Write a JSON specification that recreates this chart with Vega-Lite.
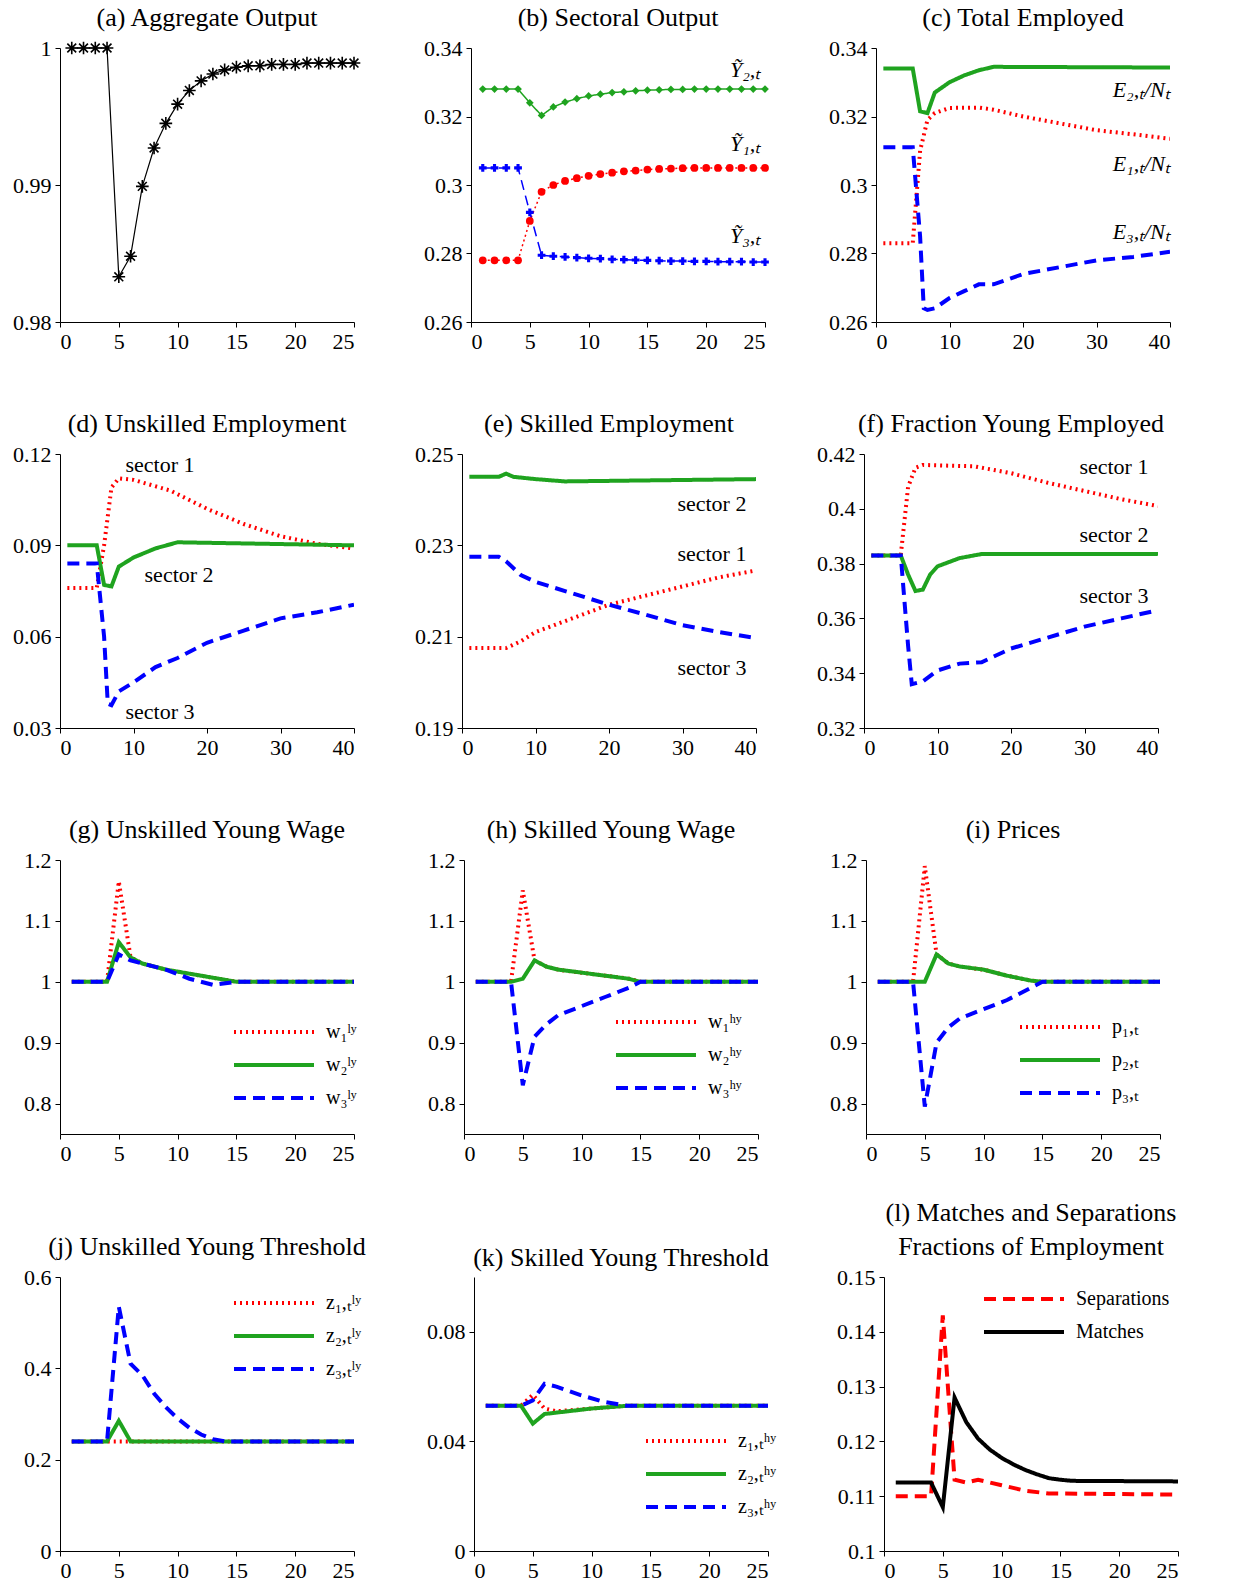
{
"$schema":"https://vega.github.io/schema/vega-lite/v6.json",
"background":"white",
"config":{"font":"Liberation Serif","view":{"stroke":null},
"axis":{"grid":false,"labelFontSize":22,"labelColor":"black","domainColor":"black","tickColor":"black","tickSize":5,"labelPadding":4,"title":null},
"axisY":{"minExtent":55,"maxExtent":55},
"title":{"fontSize":26,"fontWeight":"normal","color":"black","offset":6},
"legend":{"labelFontSize":20,"labelColor":"black","symbolType":"M-4,0L4,0","symbolSize":400,"symbolStrokeWidth":4,"rowPadding":11,"title":null,"labelOffset":40}},
"datasets":{
"a":[{"t":1,"v":1},{"t":2,"v":1},{"t":3,"v":1},{"t":4,"v":1},{"t":5,"v":0.9833},{"t":6,"v":0.9848},{"t":7,"v":0.9899},{"t":8,"v":0.9927},{"t":9,"v":0.9945},{"t":10,"v":0.9959},{"t":11,"v":0.9969},{"t":12,"v":0.9976},{"t":13,"v":0.9981},{"t":14,"v":0.9984},{"t":15,"v":0.9986},{"t":16,"v":0.9987},{"t":17,"v":0.9987},{"t":18,"v":0.9988},{"t":19,"v":0.9988},{"t":20,"v":0.9988},{"t":21,"v":0.9989},{"t":22,"v":0.9989},{"t":23,"v":0.9989},{"t":24,"v":0.9989},{"t":25,"v":0.9989}],
"b":[
{"s":"1","t":1,"v":0.278},{"s":"1","t":2,"v":0.278},{"s":"1","t":3,"v":0.278},{"s":"1","t":4,"v":0.278},{"s":"1","t":5,"v":0.2895},{"s":"1","t":6,"v":0.298},{"s":"1","t":7,"v":0.3},{"s":"1","t":8,"v":0.3012},{"s":"1","t":9,"v":0.302},{"s":"1","t":10,"v":0.3027},{"s":"1","t":11,"v":0.3032},{"s":"1","t":12,"v":0.3036},{"s":"1","t":13,"v":0.304},{"s":"1","t":14,"v":0.3042},{"s":"1","t":15,"v":0.3045},{"s":"1","t":16,"v":0.3047},{"s":"1","t":17,"v":0.3048},{"s":"1","t":18,"v":0.3049},{"s":"1","t":19,"v":0.305},{"s":"1","t":20,"v":0.305},{"s":"1","t":21,"v":0.305},{"s":"1","t":22,"v":0.305},{"s":"1","t":23,"v":0.305},{"s":"1","t":24,"v":0.305},{"s":"1","t":25,"v":0.305},
{"s":"2","t":1,"v":0.328},{"s":"2","t":2,"v":0.328},{"s":"2","t":3,"v":0.328},{"s":"2","t":4,"v":0.328},{"s":"2","t":5,"v":0.324},{"s":"2","t":6,"v":0.3203},{"s":"2","t":7,"v":0.3228},{"s":"2","t":8,"v":0.3242},{"s":"2","t":9,"v":0.3252},{"s":"2","t":10,"v":0.326},{"s":"2","t":11,"v":0.3265},{"s":"2","t":12,"v":0.327},{"s":"2","t":13,"v":0.3272},{"s":"2","t":14,"v":0.3275},{"s":"2","t":15,"v":0.3277},{"s":"2","t":16,"v":0.3278},{"s":"2","t":17,"v":0.3279},{"s":"2","t":18,"v":0.3279},{"s":"2","t":19,"v":0.328},{"s":"2","t":20,"v":0.328},{"s":"2","t":21,"v":0.328},{"s":"2","t":22,"v":0.328},{"s":"2","t":23,"v":0.328},{"s":"2","t":24,"v":0.328},{"s":"2","t":25,"v":0.328},
{"s":"3","t":1,"v":0.305},{"s":"3","t":2,"v":0.305},{"s":"3","t":3,"v":0.305},{"s":"3","t":4,"v":0.305},{"s":"3","t":5,"v":0.292},{"s":"3","t":6,"v":0.2795},{"s":"3","t":7,"v":0.2792},{"s":"3","t":8,"v":0.279},{"s":"3","t":9,"v":0.2788},{"s":"3","t":10,"v":0.2786},{"s":"3","t":11,"v":0.2785},{"s":"3","t":12,"v":0.2783},{"s":"3","t":13,"v":0.2782},{"s":"3","t":14,"v":0.2781},{"s":"3","t":15,"v":0.278},{"s":"3","t":16,"v":0.2779},{"s":"3","t":17,"v":0.2778},{"s":"3","t":18,"v":0.2778},{"s":"3","t":19,"v":0.2777},{"s":"3","t":20,"v":0.2777},{"s":"3","t":21,"v":0.2776},{"s":"3","t":22,"v":0.2776},{"s":"3","t":23,"v":0.2776},{"s":"3","t":24,"v":0.2775},{"s":"3","t":25,"v":0.2775}],
"bl":[{"t":24.6,"v":0.3336,"label":"Ỹ₂,ₜ"},{"t":24.6,"v":0.3119,"label":"Ỹ₁,ₜ"},{"t":24.6,"v":0.2852,"label":"Ỹ₃,ₜ"}],
"c":[
{"s":"1","t":1,"v":0.283},{"s":"1","t":5,"v":0.283},{"s":"1","t":6,"v":0.31},{"s":"1","t":7,"v":0.319},{"s":"1","t":8,"v":0.321},{"s":"1","t":10,"v":0.3225},{"s":"1","t":14,"v":0.3226},{"s":"1","t":16,"v":0.322},{"s":"1","t":20,"v":0.32},{"s":"1","t":25,"v":0.318},{"s":"1","t":30,"v":0.316},{"s":"1","t":35,"v":0.3148},{"s":"1","t":40,"v":0.3135},
{"s":"2","t":1,"v":0.334},{"s":"2","t":5,"v":0.334},{"s":"2","t":6,"v":0.3215},{"s":"2","t":7,"v":0.321},{"s":"2","t":8,"v":0.327},{"s":"2","t":10,"v":0.33},{"s":"2","t":12,"v":0.332},{"s":"2","t":14,"v":0.3335},{"s":"2","t":16,"v":0.3345},{"s":"2","t":40,"v":0.3343},
{"s":"3","t":1,"v":0.311},{"s":"3","t":5,"v":0.311},{"s":"3","t":6,"v":0.285},{"s":"3","t":6.5,"v":0.264},{"s":"3","t":7,"v":0.2635},{"s":"3","t":8,"v":0.264},{"s":"3","t":10,"v":0.267},{"s":"3","t":12,"v":0.269},{"s":"3","t":14,"v":0.271},{"s":"3","t":16,"v":0.271},{"s":"3","t":20,"v":0.274},{"s":"3","t":25,"v":0.276},{"s":"3","t":30,"v":0.278},{"s":"3","t":35,"v":0.279},{"s":"3","t":40,"v":0.2805}],
"cl":[{"t":40,"v":0.3278,"label":"E₂,ₜ/Nₜ"},{"t":40,"v":0.3061,"label":"E₁,ₜ/Nₜ"},{"t":40,"v":0.2864,"label":"E₃,ₜ/Nₜ"}],
"d":[
{"s":"1","t":1,"v":0.076},{"s":"1","t":5,"v":0.076},{"s":"1","t":6,"v":0.09},{"s":"1","t":7,"v":0.109},{"s":"1","t":8,"v":0.112},{"s":"1","t":10,"v":0.1115},{"s":"1","t":15,"v":0.108},{"s":"1","t":20,"v":0.102},{"s":"1","t":25,"v":0.097},{"s":"1","t":30,"v":0.093},{"s":"1","t":35,"v":0.0905},{"s":"1","t":40,"v":0.089},
{"s":"2","t":1,"v":0.09},{"s":"2","t":5,"v":0.09},{"s":"2","t":6,"v":0.077},{"s":"2","t":7,"v":0.0765},{"s":"2","t":8,"v":0.083},{"s":"2","t":10,"v":0.086},{"s":"2","t":13,"v":0.089},{"s":"2","t":16,"v":0.091},{"s":"2","t":40,"v":0.09},
{"s":"3","t":1,"v":0.084},{"s":"3","t":5,"v":0.084},{"s":"3","t":6,"v":0.06},{"s":"3","t":6.5,"v":0.038},{"s":"3","t":7,"v":0.0375},{"s":"3","t":8,"v":0.042},{"s":"3","t":10,"v":0.045},{"s":"3","t":13,"v":0.05},{"s":"3","t":16,"v":0.053},{"s":"3","t":20,"v":0.058},{"s":"3","t":25,"v":0.062},{"s":"3","t":30,"v":0.066},{"s":"3","t":35,"v":0.068},{"s":"3","t":40,"v":0.0705}],
"dl":[{"t":13.6,"v":0.1164,"label":"sector 1"},{"t":16.2,"v":0.0803,"label":"sector 2"},{"t":13.6,"v":0.0353,"label":"sector 3"}],
"e":[
{"s":"1","t":1,"v":0.2075},{"s":"1","t":6,"v":0.2075},{"s":"1","t":8,"v":0.209},{"s":"1","t":10,"v":0.211},{"s":"1","t":15,"v":0.214},{"s":"1","t":20,"v":0.217},{"s":"1","t":25,"v":0.219},{"s":"1","t":30,"v":0.221},{"s":"1","t":35,"v":0.223},{"s":"1","t":40,"v":0.2245},
{"s":"2","t":1,"v":0.245},{"s":"2","t":5,"v":0.245},{"s":"2","t":6,"v":0.2457},{"s":"2","t":7,"v":0.245},{"s":"2","t":10,"v":0.2445},{"s":"2","t":14,"v":0.244},{"s":"2","t":40,"v":0.2445},
{"s":"3","t":1,"v":0.2275},{"s":"3","t":5,"v":0.2275},{"s":"3","t":6,"v":0.2265},{"s":"3","t":8,"v":0.2235},{"s":"3","t":10,"v":0.222},{"s":"3","t":15,"v":0.2195},{"s":"3","t":20,"v":0.217},{"s":"3","t":25,"v":0.2148},{"s":"3","t":30,"v":0.2125},{"s":"3","t":35,"v":0.211},{"s":"3","t":40,"v":0.2097}],
"el":[{"t":34,"v":0.2391,"label":"sector 2"},{"t":34,"v":0.2281,"label":"sector 1"},{"t":34,"v":0.2031,"label":"sector 3"}],
"f":[
{"s":"1","t":1,"v":0.383},{"s":"1","t":5,"v":0.383},{"s":"1","t":6,"v":0.408},{"s":"1","t":7,"v":0.415},{"s":"1","t":8,"v":0.416},{"s":"1","t":15,"v":0.4155},{"s":"1","t":20,"v":0.413},{"s":"1","t":25,"v":0.4095},{"s":"1","t":30,"v":0.4065},{"s":"1","t":35,"v":0.4035},{"s":"1","t":40,"v":0.401},
{"s":"2","t":1,"v":0.383},{"s":"2","t":5,"v":0.383},{"s":"2","t":6,"v":0.376},{"s":"2","t":7,"v":0.37},{"s":"2","t":8,"v":0.3705},{"s":"2","t":9,"v":0.376},{"s":"2","t":10,"v":0.379},{"s":"2","t":13,"v":0.382},{"s":"2","t":16,"v":0.3835},{"s":"2","t":40,"v":0.3835},
{"s":"3","t":1,"v":0.383},{"s":"3","t":5,"v":0.383},{"s":"3","t":6,"v":0.35},{"s":"3","t":6.5,"v":0.336},{"s":"3","t":8,"v":0.337},{"s":"3","t":10,"v":0.341},{"s":"3","t":13,"v":0.3435},{"s":"3","t":16,"v":0.344},{"s":"3","t":20,"v":0.349},{"s":"3","t":25,"v":0.353},{"s":"3","t":30,"v":0.357},{"s":"3","t":35,"v":0.36},{"s":"3","t":40,"v":0.363}],
"fl":[{"t":34,"v":0.4153,"label":"sector 1"},{"t":34,"v":0.3904,"label":"sector 2"},{"t":34,"v":0.3682,"label":"sector 3"}],
"g":[
{"s":"1","t":1,"v":1},{"s":"1","t":4,"v":1},{"s":"1","t":5,"v":1.165},{"s":"1","t":6,"v":1.04},{"s":"1","t":7,"v":1.03},{"s":"1","t":9,"v":1.02},{"s":"1","t":12,"v":1.01},{"s":"1","t":15,"v":1},{"s":"1","t":25,"v":1},
{"s":"2","t":1,"v":1},{"s":"2","t":4,"v":1},{"s":"2","t":5,"v":1.065},{"s":"2","t":6,"v":1.04},{"s":"2","t":7,"v":1.03},{"s":"2","t":9,"v":1.02},{"s":"2","t":12,"v":1.01},{"s":"2","t":15,"v":1},{"s":"2","t":25,"v":1},
{"s":"3","t":1,"v":1},{"s":"3","t":4,"v":1},{"s":"3","t":5,"v":1.045},{"s":"3","t":6,"v":1.035},{"s":"3","t":7,"v":1.03},{"s":"3","t":9,"v":1.02},{"s":"3","t":11,"v":1.005},{"s":"3","t":13,"v":0.995},{"s":"3","t":15,"v":1},{"s":"3","t":25,"v":1}],
"h":[
{"s":"1","t":1,"v":1},{"s":"1","t":4,"v":1},{"s":"1","t":5,"v":1.15},{"s":"1","t":6,"v":1.035},{"s":"1","t":7,"v":1.025},{"s":"1","t":8,"v":1.02},{"s":"1","t":10,"v":1.015},{"s":"1","t":12,"v":1.01},{"s":"1","t":14,"v":1.005},{"s":"1","t":15,"v":1},{"s":"1","t":25,"v":1},
{"s":"2","t":1,"v":1},{"s":"2","t":4,"v":1},{"s":"2","t":5,"v":1.005},{"s":"2","t":6,"v":1.035},{"s":"2","t":7,"v":1.025},{"s":"2","t":8,"v":1.02},{"s":"2","t":10,"v":1.015},{"s":"2","t":12,"v":1.01},{"s":"2","t":14,"v":1.005},{"s":"2","t":15,"v":1},{"s":"2","t":25,"v":1},
{"s":"3","t":1,"v":1},{"s":"3","t":4,"v":1},{"s":"3","t":5,"v":0.83},{"s":"3","t":6,"v":0.91},{"s":"3","t":7,"v":0.93},{"s":"3","t":8,"v":0.945},{"s":"3","t":10,"v":0.96},{"s":"3","t":12,"v":0.975},{"s":"3","t":14,"v":0.99},{"s":"3","t":15,"v":1},{"s":"3","t":25,"v":1}],
"i":[
{"s":"1","t":1,"v":1},{"s":"1","t":4,"v":1},{"s":"1","t":5,"v":1.19},{"s":"1","t":6,"v":1.045},{"s":"1","t":7,"v":1.03},{"s":"1","t":8,"v":1.025},{"s":"1","t":10,"v":1.02},{"s":"1","t":12,"v":1.01},{"s":"1","t":14,"v":1.002},{"s":"1","t":15,"v":1},{"s":"1","t":25,"v":1},
{"s":"2","t":1,"v":1},{"s":"2","t":5,"v":1},{"s":"2","t":6,"v":1.045},{"s":"2","t":7,"v":1.03},{"s":"2","t":8,"v":1.025},{"s":"2","t":10,"v":1.02},{"s":"2","t":12,"v":1.01},{"s":"2","t":14,"v":1.002},{"s":"2","t":15,"v":1},{"s":"2","t":25,"v":1},
{"s":"3","t":1,"v":1},{"s":"3","t":4,"v":1},{"s":"3","t":5,"v":0.795},{"s":"3","t":6,"v":0.9},{"s":"3","t":7,"v":0.925},{"s":"3","t":8,"v":0.94},{"s":"3","t":10,"v":0.955},{"s":"3","t":12,"v":0.97},{"s":"3","t":14,"v":0.99},{"s":"3","t":15,"v":1},{"s":"3","t":25,"v":1}],
"j":[
{"s":"1","t":1,"v":0.24},{"s":"1","t":25,"v":0.24},
{"s":"2","t":1,"v":0.24},{"s":"2","t":4,"v":0.24},{"s":"2","t":5,"v":0.285},{"s":"2","t":6,"v":0.24},{"s":"2","t":25,"v":0.24},
{"s":"3","t":1,"v":0.24},{"s":"3","t":4,"v":0.24},{"s":"3","t":5,"v":0.535},{"s":"3","t":6,"v":0.41},{"s":"3","t":7,"v":0.385},{"s":"3","t":8,"v":0.345},{"s":"3","t":9,"v":0.315},{"s":"3","t":10,"v":0.29},{"s":"3","t":11,"v":0.27},{"s":"3","t":12,"v":0.255},{"s":"3","t":13,"v":0.245},{"s":"3","t":14,"v":0.24},{"s":"3","t":25,"v":0.24}],
"k":[
{"s":"1","t":1,"v":0.053},{"s":"1","t":4,"v":0.053},{"s":"1","t":5,"v":0.057},{"s":"1","t":6,"v":0.052},{"s":"1","t":7,"v":0.051},{"s":"1","t":13,"v":0.053},{"s":"1","t":25,"v":0.053},
{"s":"2","t":1,"v":0.053},{"s":"2","t":4,"v":0.053},{"s":"2","t":5,"v":0.0465},{"s":"2","t":6,"v":0.05},{"s":"2","t":8,"v":0.051},{"s":"2","t":10,"v":0.052},{"s":"2","t":13,"v":0.053},{"s":"2","t":25,"v":0.053},
{"s":"3","t":1,"v":0.053},{"s":"3","t":4,"v":0.053},{"s":"3","t":5,"v":0.055},{"s":"3","t":6,"v":0.061},{"s":"3","t":7,"v":0.06},{"s":"3","t":9,"v":0.057},{"s":"3","t":11,"v":0.0545},{"s":"3","t":13,"v":0.053},{"s":"3","t":25,"v":0.053}],
"l":[
{"s":"Separations","t":1,"v":0.11},{"s":"Separations","t":4,"v":0.11},{"s":"Separations","t":5,"v":0.143},{"s":"Separations","t":6,"v":0.113},{"s":"Separations","t":7,"v":0.1125},{"s":"Separations","t":8,"v":0.113},{"s":"Separations","t":9,"v":0.1125},{"s":"Separations","t":10,"v":0.112},{"s":"Separations","t":12,"v":0.111},{"s":"Separations","t":14,"v":0.1105},{"s":"Separations","t":25,"v":0.1103},
{"s":"Matches","t":1,"v":0.1125},{"s":"Matches","t":4,"v":0.1125},{"s":"Matches","t":5,"v":0.108},{"s":"Matches","t":6,"v":0.128},{"s":"Matches","t":7,"v":0.1235},{"s":"Matches","t":8,"v":0.1205},{"s":"Matches","t":9,"v":0.1185},{"s":"Matches","t":10,"v":0.117},{"s":"Matches","t":11,"v":0.1158},{"s":"Matches","t":12,"v":0.1148},{"s":"Matches","t":13,"v":0.114},{"s":"Matches","t":14,"v":0.1133},{"s":"Matches","t":15,"v":0.113},{"s":"Matches","t":16,"v":0.1128},{"s":"Matches","t":25,"v":0.1127}]
},
"resolve":{"scale":{"color":"independent","strokeDash":"independent","shape":"independent"},"legend":{"color":"independent","strokeDash":"independent"}},
"spacing":36,
"vconcat":[
{"spacing":59,"resolve":{"scale":{"color":"independent","strokeDash":"independent","shape":"independent"},"legend":{"color":"independent","strokeDash":"independent"}},
"vconcat":[
{"hconcat":[
{"title":"(a) Aggregate Output","width":294,"height":274,"data":{"name":"a"},
"encoding":{"x":{"field":"t","type":"quantitative","scale":{"domain":[0,25],"nice":false},"axis":{"values":[0,5,10,15,20,25]}},
"y":{"field":"v","type":"quantitative","scale":{"domain":[0.98,1.0],"nice":false,"zero":false},"axis":{"values":[0.98,0.99,1],"format":"~g"}}},
"layer":[{"mark":{"type":"line","color":"black","strokeWidth":1.2}},
{"mark":{"type":"point","shape":"M-1,0L1,0M0,-1L0,1M-0.7,-0.7L0.7,0.7M-0.7,0.7L0.7,-0.7","filled":false,"color":"black","size":160,"strokeWidth":1.6,"opacity":1}}]},
{"title":"(b) Sectoral Output","width":294,"height":274,
"layer":[
{"data":{"name":"b"},"mark":{"type":"line","strokeWidth":1.5},
"encoding":{"x":{"field":"t","type":"quantitative","scale":{"domain":[0,25],"nice":false},"axis":{"values":[0,5,10,15,20,25]}},
"y":{"field":"v","type":"quantitative","scale":{"domain":[0.26,0.34],"nice":false,"zero":false},"axis":{"values":[0.26,0.28,0.3,0.32,0.34],"format":"~g"}},
"color":{"field":"s","type":"nominal","scale":{"domain":["1","2","3"],"range":["#ff0000","#1fa31f","#0000ff"]},"legend":null},
"strokeDash":{"field":"s","type":"nominal","scale":{"domain":["1","2","3"],"range":[[2,3],[1,0],[10,6]]},"legend":null}}},
{"data":{"name":"b"},"mark":{"type":"point","filled":true,"opacity":1,"size":60},
"encoding":{"x":{"field":"t","type":"quantitative"},"y":{"field":"v","type":"quantitative"},
"color":{"field":"s","type":"nominal","scale":{"domain":["1","2","3"],"range":["#ff0000","#1fa31f","#0000ff"]},"legend":null},
"shape":{"field":"s","type":"nominal","scale":{"domain":["1","2","3"],"range":["circle","diamond","cross"]},"legend":null}}},
{"data":{"name":"bl"},"mark":{"type":"text","align":"right","baseline":"middle","fontSize":22,"fontStyle":"italic"},
"encoding":{"x":{"field":"t","type":"quantitative"},"y":{"field":"v","type":"quantitative"},"text":{"field":"label"}}}]},
{"title":"(c) Total Employed","width":294,"height":274,
"layer":[
{"data":{"name":"c"},"mark":{"type":"line","strokeWidth":4,"clip":true},
"encoding":{"x":{"field":"t","type":"quantitative","scale":{"domain":[0,40],"nice":false},"axis":{"values":[0,10,20,30,40]}},
"y":{"field":"v","type":"quantitative","scale":{"domain":[0.26,0.34],"nice":false,"zero":false},"axis":{"values":[0.26,0.28,0.3,0.32,0.34],"format":"~g"}},
"color":{"field":"s","type":"nominal","scale":{"domain":["1","2","3"],"range":["#ff0000","#1fa31f","#0000ff"]},"legend":null},
"strokeDash":{"field":"s","type":"nominal","scale":{"domain":["1","2","3"],"range":[[2,4],[1,0],[12,7]]},"legend":null}}},
{"data":{"name":"cl"},"mark":{"type":"text","align":"right","baseline":"middle","fontSize":22,"fontStyle":"italic"},
"encoding":{"x":{"field":"t","type":"quantitative"},"y":{"field":"v","type":"quantitative"},"text":{"field":"label"}}}]}
],"resolve":{"scale":{"color":"independent","strokeDash":"independent","shape":"independent"}},"spacing":52},
{"hconcat":[
{"title":"(d) Unskilled Employment","width":294,"height":274,
"layer":[
{"data":{"name":"d"},"mark":{"type":"line","strokeWidth":4,"clip":true},
"encoding":{"x":{"field":"t","type":"quantitative","scale":{"domain":[0,40],"nice":false},"axis":{"values":[0,10,20,30,40]}},
"y":{"field":"v","type":"quantitative","scale":{"domain":[0.03,0.12],"nice":false,"zero":false},"axis":{"values":[0.03,0.06,0.09,0.12],"format":"~g"}},
"color":{"field":"s","type":"nominal","scale":{"domain":["1","2","3"],"range":["#ff0000","#1fa31f","#0000ff"]},"legend":null},
"strokeDash":{"field":"s","type":"nominal","scale":{"domain":["1","2","3"],"range":[[2,4],[1,0],[12,7]]},"legend":null}}},
{"data":{"name":"dl"},"mark":{"type":"text","align":"center","baseline":"middle","fontSize":22},
"encoding":{"x":{"field":"t","type":"quantitative"},"y":{"field":"v","type":"quantitative"},"text":{"field":"label"}}}]},
{"title":"(e) Skilled Employment","width":294,"height":274,
"layer":[
{"data":{"name":"e"},"mark":{"type":"line","strokeWidth":4,"clip":true},
"encoding":{"x":{"field":"t","type":"quantitative","scale":{"domain":[0,40],"nice":false},"axis":{"values":[0,10,20,30,40]}},
"y":{"field":"v","type":"quantitative","scale":{"domain":[0.19,0.25],"nice":false,"zero":false},"axis":{"values":[0.19,0.21,0.23,0.25],"format":"~g"}},
"color":{"field":"s","type":"nominal","scale":{"domain":["1","2","3"],"range":["#ff0000","#1fa31f","#0000ff"]},"legend":null},
"strokeDash":{"field":"s","type":"nominal","scale":{"domain":["1","2","3"],"range":[[2,4],[1,0],[12,7]]},"legend":null}}},
{"data":{"name":"el"},"mark":{"type":"text","align":"center","baseline":"middle","fontSize":22},
"encoding":{"x":{"field":"t","type":"quantitative"},"y":{"field":"v","type":"quantitative"},"text":{"field":"label"}}}]},
{"title":"(f) Fraction Young Employed","width":294,"height":274,
"layer":[
{"data":{"name":"f"},"mark":{"type":"line","strokeWidth":4,"clip":true},
"encoding":{"x":{"field":"t","type":"quantitative","scale":{"domain":[0,40],"nice":false},"axis":{"values":[0,10,20,30,40]}},
"y":{"field":"v","type":"quantitative","scale":{"domain":[0.32,0.42],"nice":false,"zero":false},"axis":{"values":[0.32,0.34,0.36,0.38,0.4,0.42],"format":"~g"}},
"color":{"field":"s","type":"nominal","scale":{"domain":["1","2","3"],"range":["#ff0000","#1fa31f","#0000ff"]},"legend":null},
"strokeDash":{"field":"s","type":"nominal","scale":{"domain":["1","2","3"],"range":[[2,4],[1,0],[12,7]]},"legend":null}}},
{"data":{"name":"fl"},"mark":{"type":"text","align":"center","baseline":"middle","fontSize":22},
"encoding":{"x":{"field":"t","type":"quantitative"},"y":{"field":"v","type":"quantitative"},"text":{"field":"label"}}}]}
],"resolve":{"scale":{"color":"independent","strokeDash":"independent"}},"spacing":52},
{"hconcat":[
{"title":"(g) Unskilled Young Wage","width":294,"height":274,"data":{"name":"g"},"mark":{"type":"line","strokeWidth":4,"clip":true},
"encoding":{"x":{"field":"t","type":"quantitative","scale":{"domain":[0,25],"nice":false},"axis":{"values":[0,5,10,15,20,25]}},
"y":{"field":"v","type":"quantitative","scale":{"domain":[0.75,1.2],"nice":false,"zero":false},"axis":{"values":[0.8,0.9,1,1.1,1.2],"format":"~g"}},
"color":{"field":"s","type":"nominal","scale":{"domain":["1","2","3"],"range":["#ff0000","#1fa31f","#0000ff"]},"legend":{"orient":"none","legendX":202,"legendY":160,"labelExpr":"datum.label=='1'?'w₁ˡʸ':datum.label=='2'?'w₂ˡʸ':'w₃ˡʸ'"}},
"strokeDash":{"field":"s","type":"nominal","scale":{"domain":["1","2","3"],"range":[[2,4],[1,0],[12,7]]}}}},
{"title":"(h) Skilled Young Wage","width":294,"height":274,"data":{"name":"h"},"mark":{"type":"line","strokeWidth":4,"clip":true},
"encoding":{"x":{"field":"t","type":"quantitative","scale":{"domain":[0,25],"nice":false},"axis":{"values":[0,5,10,15,20,25]}},
"y":{"field":"v","type":"quantitative","scale":{"domain":[0.75,1.2],"nice":false,"zero":false},"axis":{"values":[0.8,0.9,1,1.1,1.2],"format":"~g"}},
"color":{"field":"s","type":"nominal","scale":{"domain":["1","2","3"],"range":["#ff0000","#1fa31f","#0000ff"]},"legend":{"orient":"none","legendX":180,"legendY":150,"labelExpr":"datum.label=='1'?'w₁ʰʸ':datum.label=='2'?'w₂ʰʸ':'w₃ʰʸ'"}},
"strokeDash":{"field":"s","type":"nominal","scale":{"domain":["1","2","3"],"range":[[2,4],[1,0],[12,7]]}}}},
{"title":"(i) Prices","width":294,"height":274,"data":{"name":"i"},"mark":{"type":"line","strokeWidth":4,"clip":true},
"encoding":{"x":{"field":"t","type":"quantitative","scale":{"domain":[0,25],"nice":false},"axis":{"values":[0,5,10,15,20,25]}},
"y":{"field":"v","type":"quantitative","scale":{"domain":[0.75,1.2],"nice":false,"zero":false},"axis":{"values":[0.8,0.9,1,1.1,1.2],"format":"~g"}},
"color":{"field":"s","type":"nominal","scale":{"domain":["1","2","3"],"range":["#ff0000","#1fa31f","#0000ff"]},"legend":{"orient":"none","legendX":182,"legendY":155,"labelExpr":"datum.label=='1'?'p₁,ₜ':datum.label=='2'?'p₂,ₜ':'p₃,ₜ'"}},
"strokeDash":{"field":"s","type":"nominal","scale":{"domain":["1","2","3"],"range":[[2,4],[1,0],[12,7]]}}}}
],"resolve":{"scale":{"color":"independent","strokeDash":"independent"},"legend":{"color":"independent","strokeDash":"independent"}},"spacing":52}
]},
{"hconcat":[
{"title":"(j) Unskilled Young Threshold","width":294,"height":274,"data":{"name":"j"},"mark":{"type":"line","strokeWidth":4,"clip":true},
"encoding":{"x":{"field":"t","type":"quantitative","scale":{"domain":[0,25],"nice":false},"axis":{"values":[0,5,10,15,20,25]}},
"y":{"field":"v","type":"quantitative","scale":{"domain":[0,0.6],"nice":false},"axis":{"values":[0,0.2,0.4,0.6],"format":"~g"}},
"color":{"field":"s","type":"nominal","scale":{"domain":["1","2","3"],"range":["#ff0000","#1fa31f","#0000ff"]},"legend":{"orient":"none","legendX":202,"legendY":14,"labelExpr":"datum.label=='1'?'z₁,ₜˡʸ':datum.label=='2'?'z₂,ₜˡʸ':'z₃,ₜˡʸ'"}},
"strokeDash":{"field":"s","type":"nominal","scale":{"domain":["1","2","3"],"range":[[2,4],[1,0],[12,7]]}}}},
{"title":"(k) Skilled Young Threshold","width":294,"height":274,"data":{"name":"k"},"mark":{"type":"line","strokeWidth":4,"clip":true},
"encoding":{"x":{"field":"t","type":"quantitative","scale":{"domain":[0,25],"nice":false},"axis":{"values":[0,5,10,15,20,25]}},
"y":{"field":"v","type":"quantitative","scale":{"domain":[0,0.1],"nice":false},"axis":{"values":[0,0.04,0.08],"format":"~g"}},
"color":{"field":"s","type":"nominal","scale":{"domain":["1","2","3"],"range":["#ff0000","#1fa31f","#0000ff"]},"legend":{"orient":"none","legendX":200,"legendY":152,"labelExpr":"datum.label=='1'?'z₁,ₜʰʸ':datum.label=='2'?'z₂,ₜʰʸ':'z₃,ₜʰʸ'"}},
"strokeDash":{"field":"s","type":"nominal","scale":{"domain":["1","2","3"],"range":[[2,4],[1,0],[12,7]]}}}},
{"title":{"text":["(l) Matches and Separations","Fractions of Employment"],"lineHeight":34},"width":294,"height":274,"data":{"name":"l"},"mark":{"type":"line","strokeWidth":4,"clip":true},
"encoding":{"x":{"field":"t","type":"quantitative","scale":{"domain":[0,25],"nice":false},"axis":{"values":[0,5,10,15,20,25]}},
"y":{"field":"v","type":"quantitative","scale":{"domain":[0.1,0.15],"nice":false,"zero":false},"axis":{"values":[0.1,0.11,0.12,0.13,0.14,0.15],"format":"~g"}},
"color":{"field":"s","type":"nominal","scale":{"domain":["Separations","Matches"],"range":["#ff0000","#000000"]},"legend":{"orient":"none","legendX":128,"legendY":10}},
"strokeDash":{"field":"s","type":"nominal","scale":{"domain":["Separations","Matches"],"range":[[12,7],[1,0]]}}}}
],"resolve":{"scale":{"color":"independent","strokeDash":"independent"},"legend":{"color":"independent","strokeDash":"independent"}},"spacing":52}
]
}
